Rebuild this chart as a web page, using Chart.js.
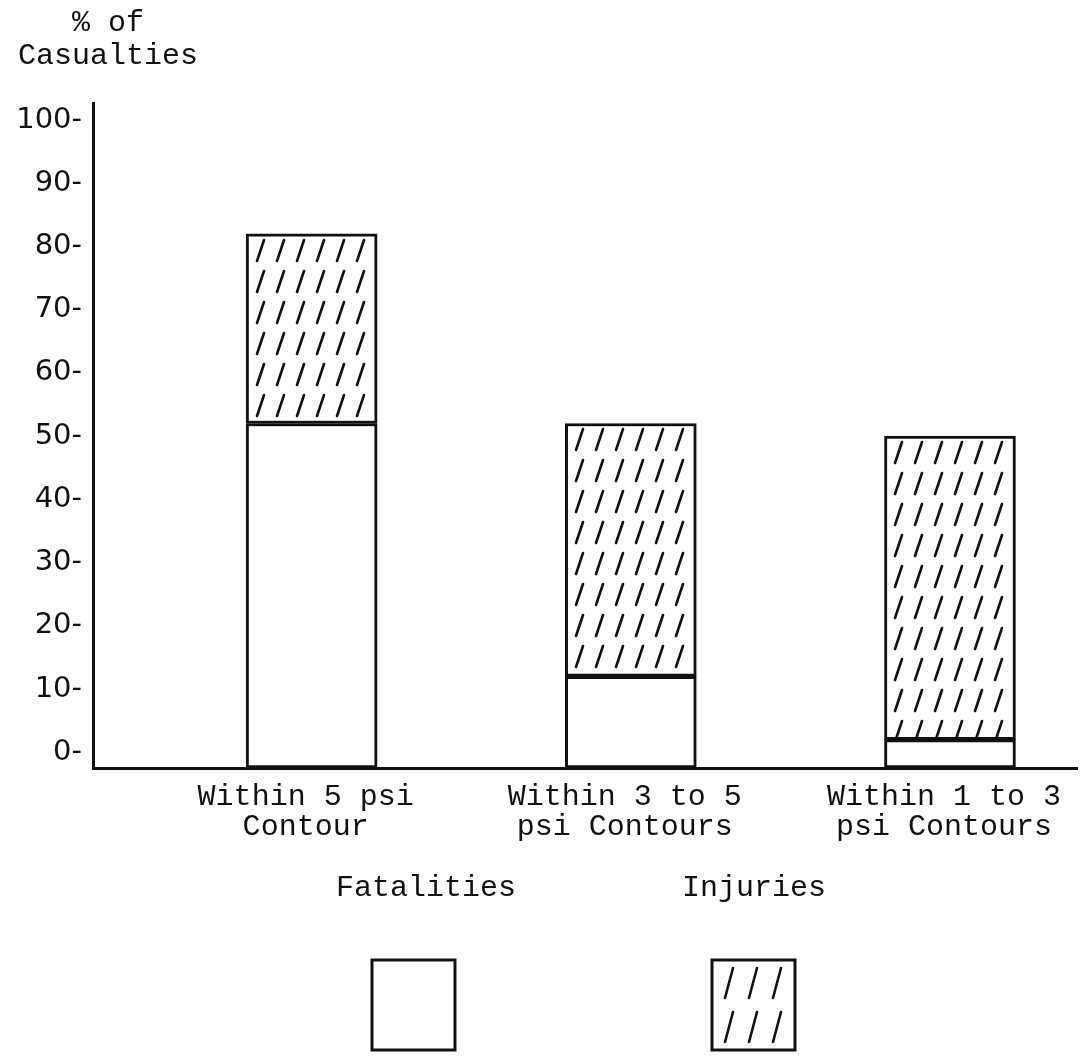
<!DOCTYPE html>
<html>
<head>
<meta charset="utf-8">
<title>% of Casualties</title>
<script src="https://cdn.jsdelivr.net/npm/chart.js@4/dist/chart.umd.min.js"></script>
<style>
    html, body { margin: 0; padding: 0; background: #fff; }
    #wrap { width: 1081px; height: 1056px; position: relative; }
</style>
</head>
<body>
<div id="wrap"><canvas id="casualties-chart"></canvas></div>
<script>
// data
const categories = [
    ['Within 5 psi', 'Contour'],
    ['Within 3 to 5', 'psi Contours'],
    ['Within 1 to 3', 'psi Contours']
];
const fatalities = [52, 12, 2];
const injuries = [30, 40, 48];
const yTicks = [0, 10, 20, 30, 40, 50, 60, 70, 80, 90, 100];
const seriesLabels = ['Fatalities', 'Injuries'];
const titleLines = ['    % of', ' Casualties'];

const INK = '#111';
const MONO = '"Liberation Mono", "DejaVu Sans Mono", monospace';
const BAR_W = 131;

const ctx = document.getElementById('casualties-chart').getContext('2d');

// typewriter style "//////" hatching, one slash per tile
function makeHatch(w, h, x0, y0, x1, y1) {
    const tile = document.createElement('canvas');
    tile.width = w;
    tile.height = h;
    const t = tile.getContext('2d');
    t.fillStyle = '#fff';
    t.fillRect(0, 0, w, h);
    t.strokeStyle = INK;
    t.lineWidth = 2.6;
    t.lineCap = 'round';
    t.beginPath();
    t.moveTo(x0, y0);
    t.lineTo(x1, y1);
    t.stroke();
    return ctx.createPattern(tile, 'repeat');
}
const barHatch = () => makeHatch(20, 31, 11, 27, 18, 6);
const legendHatch = makeHatch(24, 44, 13, 38, 21, 8);

// start the hatching at each bar's top left corner, like the typed original
const hatchCache = {};
function hatchFor(context) {
    const i = context.dataIndex;
    const { x, y } = context.chart.scales;
    if (i === undefined || !x || !y) return barHatch();
    const left = Math.round(x.getPixelForValue(i + 1) - BAR_W / 2);
    const top = Math.round(y.getPixelForValue(fatalities[i] + injuries[i]));
    const key = left + ':' + top;
    if (!hatchCache[key]) {
        const p = barHatch();
        p.setTransform(new DOMMatrix().translate(left, top));
        hatchCache[key] = p;
    }
    return hatchCache[key];
}

// legend: label on top, sample box underneath
const boxLegend = {
    id: 'boxLegend',
    afterDraw(chart) {
        const c = chart.ctx;
        const spots = [
            { textX: 426, boxX: 372, fill: '#fff' },
            { textX: 754, boxX: 712, fill: legendHatch }
        ];
        c.save();
        c.font = '30px ' + MONO;
        c.textAlign = 'center';
        c.textBaseline = 'middle';
        chart.data.datasets.forEach((ds, i) => {
            const s = spots[i];
            c.fillStyle = INK;
            c.fillText(ds.label, s.textX, 888);
            c.save();
            c.translate(s.boxX, 960);
            c.fillStyle = s.fill;
            c.fillRect(0, 0, 83, 90);
            c.restore();
            c.lineWidth = 3;
            c.strokeStyle = INK;
            c.strokeRect(s.boxX, 960, 83, 90);
        });
        c.restore();
    }
};

new Chart(ctx, {
    type: 'bar',
    data: {
        datasets: [{
            label: seriesLabels[0],
            data: fatalities.map((v, i) => ({ x: i + 1, y: v })),
            backgroundColor: '#fff',
            base: -2.5
        }, {
            label: seriesLabels[1],
            data: injuries.map((v, i) => ({ x: i + 1, y: v })),
            backgroundColor: hatchFor
        }]
    },
    options: {
        responsive: true,
        maintainAspectRatio: false,
        animation: false,
        layout: { padding: { left: 0, right: 0, top: 0, bottom: 188 } },
        datasets: {
            bar: {
                barThickness: BAR_W,
                borderColor: INK,
                borderWidth: 3,
                borderSkipped: false
            }
        },
        plugins: {
            legend: { display: false },
            tooltip: { enabled: false },
            title: {
                display: true,
                text: titleLines,
                align: 'start',
                color: INK,
                font: { family: MONO, size: 30, weight: 'normal', lineHeight: 1.1 },
                padding: { top: 7, bottom: 30 }
            }
        },
        scales: {
            x: {
                type: 'linear',
                min: 0.315,
                max: 3.398,
                offset: false,
                stacked: true,
                grid: { display: false, drawTicks: false, offset: false },
                border: { display: true, color: INK, width: 3 },
                afterBuildTicks: axis => {
                    axis.ticks = categories.map((c, i) => ({ value: i + 1 }));
                },
                afterFit: axis => { axis.height = 100; },
                ticks: {
                    callback: value => categories[value - 1],
                    color: INK,
                    font: { family: MONO, size: 30, lineHeight: 1 },
                    padding: 14,
                    labelOffset: -6,
                    maxRotation: 0,
                    autoSkip: false
                }
            },
            y: {
                min: -2.5,
                max: 102.7,
                stacked: true,
                grid: { display: false, drawTicks: false },
                border: { display: true, color: INK, width: 3 },
                afterBuildTicks: axis => {
                    axis.ticks = yTicks.map(v => ({ value: v }));
                },
                afterFit: axis => { axis.width = 93; },
                ticks: {
                    callback: value => value + '-',
                    color: INK,
                    font: { family: '"DejaVu Sans", sans-serif', size: 29 },
                    padding: 11
                }
            }
        }
    },
    plugins: [boxLegend]
});
</script>
</body>
</html>
